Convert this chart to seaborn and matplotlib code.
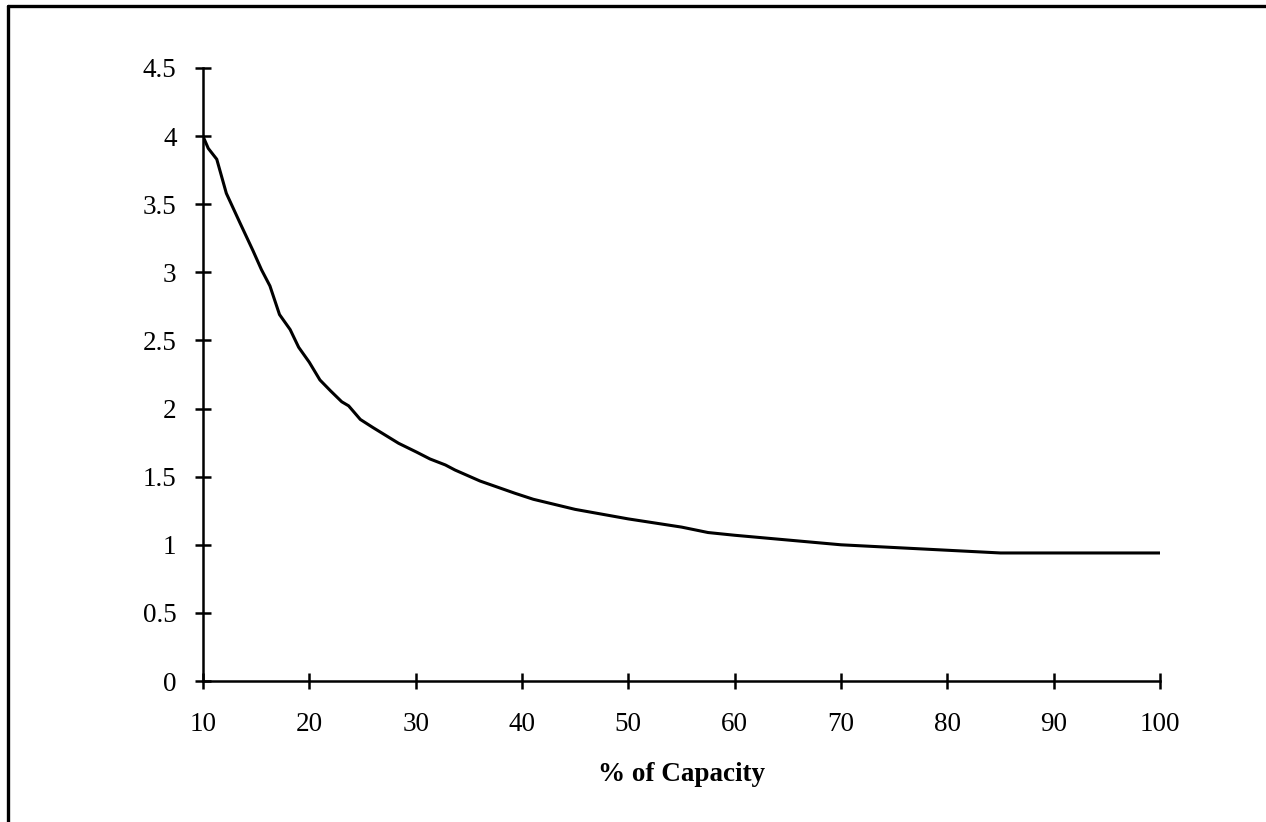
import matplotlib
matplotlib.use("Agg")
import matplotlib.pyplot as plt
import seaborn as sns
import pandas as pd
from matplotlib.lines import Line2D

# Values
capacity = [10, 10.5, 11.3, 12.2, 13.5, 14.7, 15.5, 16.3, 17.2, 18.2, 19.0, 20,
            21.0, 22, 23.05, 23.7, 24.8, 26, 28.4, 30.1, 31.35, 32.8, 33.7,
            36.06, 39.35, 41.07, 45, 50, 55, 57.5, 60, 70, 80, 85, 90, 100]
ratio = [4.0, 3.91, 3.83, 3.58, 3.36, 3.16, 3.02, 2.90, 2.69, 2.58, 2.45, 2.34,
         2.21, 2.13, 2.05, 2.02, 1.92, 1.86, 1.745, 1.68, 1.63, 1.586, 1.549,
         1.468, 1.378, 1.334, 1.26, 1.19, 1.13, 1.09, 1.07, 1.0, 0.96, 0.94,
         0.94, 0.94]
x_ticks = [10, 20, 30, 40, 50, 60, 70, 80, 90, 100]
y_ticks = [0, 0.5, 1, 1.5, 2, 2.5, 3, 3.5, 4, 4.5]
y_labels = ["0", "0.5", "1", "1.5", "2", "2.5", "3", "3.5", "4", "4.5"]

df = pd.DataFrame({"capacity": capacity, "ratio": ratio})

sns.set_style("white")
plt.rcParams["font.family"] = ["Liberation Serif", "DejaVu Serif"]

fig = plt.figure(figsize=(12.66, 8.22), dpi=100)
ax = fig.add_axes([0.1603, 0.1715, 0.9163 - 0.1603, 0.9173 - 0.1715])

sns.lineplot(data=df, x="capacity", y="ratio", ax=ax, color="black", linewidth=2.2)

ax.set_xlim(10, 100)
ax.set_ylim(0, 4.5)
ax.set_xticks(x_ticks)
ax.set_yticks(y_ticks)
ax.set_yticklabels(y_labels)
ax.tick_params(bottom=True, left=True, direction="inout", length=12, width=1.8,
               labelsize=19.5, color="black", labelcolor="black")
ax.tick_params(axis="x", pad=16)
ax.tick_params(axis="y", pad=13)
ax.set_xlabel("% of Capacity", fontsize=19.5, fontweight="bold", labelpad=18,
              color="black")
ax.set_ylabel("")

for side in ["top", "right"]:
    ax.spines[side].set_visible(False)
for side in ["left", "bottom"]:
    ax.spines[side].set_color("black")
    ax.spines[side].set_linewidth(1.8)
ax.spines["left"].set_zorder(3)

# frame lines on left and top of the picture
fig.add_artist(Line2D([8 / 1266, 8 / 1266], [0, 1 - 6 / 822], color="black", linewidth=2.4))
fig.add_artist(Line2D([8 / 1266, 1], [1 - 6 / 822, 1 - 6 / 822], color="black", linewidth=2.4))

fig.savefig("out.png", dpi=100)
